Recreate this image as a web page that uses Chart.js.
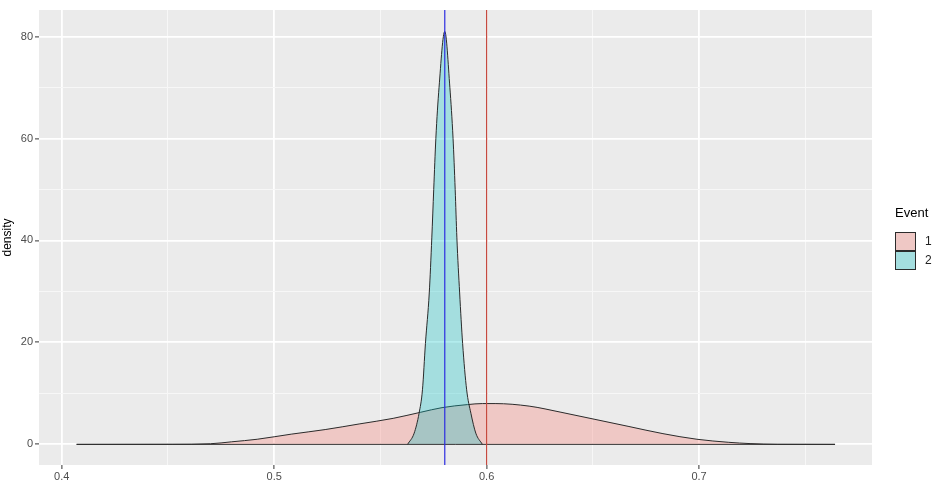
<!DOCTYPE html>
<html>
<head>
<meta charset="utf-8">
<script src="https://cdn.jsdelivr.net/npm/chart.js@4.4.1/dist/chart.umd.min.js"></script>
<style>
  html, body { margin: 0; padding: 0; background: #fff; }
  #wrap { width: 939px; height: 485px; }
</style>
</head>
<body>
<div id="wrap"><canvas id="chart" width="939" height="485"></canvas></div>
<script>
// ---- data ----
const event1X = [0.407, 0.452, 0.470, 0.480, 0.492, 0.508, 0.524, 0.540, 0.556, 0.569, 0.579, 0.591, 0.598, 0.604, 0.620, 0.635, 0.651, 0.667, 0.683, 0.699, 0.714, 0.724, 0.737, 0.764];
const event1Y = [0, 0.02, 0.12, 0.5, 1.0, 2.0, 2.9, 4.0, 5.1, 6.3, 7.2, 7.8, 8.0, 8.0, 7.5, 6.3, 4.9, 3.5, 2.1, 1.0, 0.4, 0.15, 0.02, 0];

const event2X = [0.5628, 0.5659, 0.5682, 0.5698, 0.5712, 0.5730, 0.5742, 0.5751, 0.5761, 0.5776, 0.5803, 0.5827, 0.5842, 0.5852, 0.5860, 0.5873, 0.5887, 0.5906, 0.5926, 0.5949, 0.5980];
const event2Y = [0, 2.2, 6.1, 10.7, 19.8, 29.7, 40.5, 50, 60, 70, 81, 70, 60, 50, 40.5, 29.7, 19.8, 10.7, 6.1, 2.2, 0];

const vlineX = [0.5803, 0.6];           // blue, red
const legendLabels = ['1', '2'];

const xMajor = [0.4, 0.5, 0.6, 0.7];
const xMinor = [0.45, 0.55, 0.65, 0.75];
const yMajor = [0, 20, 40, 60, 80];
const yMinor = [10, 30, 50, 70];

const xMin = 0.3893, xMax = 0.7814;
const yMin = -4.05, yMax = 85.2;

// ---- styles ----
const FONT = '"Liberation Sans", Arial, sans-serif';
const fill1 = 'rgba(248,118,109,0.3)';
const fill2 = 'rgba(0,191,196,0.3)';
const outline = '#2b2b2b';

const pts = (xs, ys) => xs.map((x, i) => ({ x, y: ys[i] }));
const isMajor = (list, v) => list.some(m => Math.abs(m - v) < 1e-9);

const panelBg = {
    id: 'panelBg',
    beforeDraw(chart) {
        const { ctx, chartArea: a } = chart;
        ctx.save();
        ctx.fillStyle = '#ffffff';
        ctx.fillRect(0, 0, chart.width, chart.height);
        ctx.fillStyle = '#ebebeb';
        ctx.fillRect(a.left, a.top, a.right - a.left, a.bottom - a.top);
        ctx.restore();
    }
};

const ggLegend = {
    id: 'ggLegend',
    afterDraw(chart) {
        const ctx = chart.ctx;
        const fills = [fill1, fill2];
        ctx.save();
        ctx.fillStyle = '#000';
        ctx.font = '13px ' + FONT;
        ctx.textBaseline = 'middle';
        ctx.fillText('Event', 895, 213);
        legendLabels.forEach((lab, i) => {
            const y = 232 + i * 19;
            ctx.fillStyle = '#ebebeb';
            ctx.fillRect(895, y, 21, 19);
            ctx.fillStyle = fills[i];
            ctx.fillRect(895, y, 21, 19);
            ctx.strokeStyle = outline;
            ctx.lineWidth = 1;
            ctx.strokeRect(895.5, y + 0.5, 20, 18);
            ctx.fillStyle = '#222';
            ctx.font = '12px ' + FONT;
            ctx.fillText(lab, 925, y + 10);
        });
        ctx.restore();
    }
};

const gridColor = (list) => (c) => isMajor(list, c.tick.value) ? '#ffffff' : '#f7f7f7';
const gridWidth = (list) => (c) => isMajor(list, c.tick.value) ? 1.8 : 1;
const tickColor = (list) => (c) => isMajor(list, c.tick.value) ? '#333333' : 'rgba(0,0,0,0)';

new Chart(document.getElementById('chart'), {
    type: 'line',
    data: {
        datasets: [
            {
                label: 'blue', data: pts([vlineX[0], vlineX[0]], [yMin, yMax]),
                borderColor: '#2d2de0', borderWidth: 1.2, pointRadius: 0, fill: false, order: 0
            },
            {
                label: 'red', data: pts([vlineX[1], vlineX[1]], [yMin, yMax]),
                borderColor: '#c4473d', borderWidth: 1.2, pointRadius: 0, fill: false, order: 0
            },
            {
                label: 'base', data: pts([event1X[0], event1X[event1X.length - 1]], [0, 0]),
                borderColor: outline, borderWidth: 1, pointRadius: 0, fill: false, order: 1
            },
            {
                label: '2', data: pts(event2X, event2Y),
                borderColor: outline, borderWidth: 1, backgroundColor: fill2,
                fill: 'origin', pointRadius: 0, cubicInterpolationMode: 'monotone', order: 2
            },
            {
                label: '1', data: pts(event1X, event1Y),
                borderColor: outline, borderWidth: 1, backgroundColor: fill1,
                fill: 'origin', pointRadius: 0, cubicInterpolationMode: 'monotone', order: 3
            }
        ]
    },
    options: {
        responsive: false,
        animation: false,
        devicePixelRatio: 1,
        layout: { padding: { left: 0, top: 10, right: 67, bottom: 0 } },
        plugins: { legend: { display: false }, tooltip: { enabled: false } },
        scales: {
            x: {
                type: 'linear', min: xMin, max: xMax,
                afterBuildTicks: s => { s.ticks = [...xMajor, ...xMinor].sort((a, b) => a - b).map(v => ({ value: v })); },
                afterFit: s => { s.height = 20; },
                border: { display: false },
                grid: { color: gridColor(xMajor), lineWidth: gridWidth(xMajor), tickColor: tickColor(xMajor), tickLength: 4, tickWidth: 1 },
                ticks: {
                    padding: 1, maxRotation: 0, autoSkip: false, color: '#4d4d4d',
                    font: { family: FONT, size: 11 },
                    callback: v => isMajor(xMajor, v) ? String(v) : ''
                }
            },
            y: {
                type: 'linear', min: yMin, max: yMax,
                afterBuildTicks: s => { s.ticks = [...yMajor, ...yMinor].sort((a, b) => a - b).map(v => ({ value: v })); },
                afterFit: s => { s.width = 39; },
                border: { display: false },
                grid: { color: gridColor(yMajor), lineWidth: gridWidth(yMajor), tickColor: tickColor(yMajor), tickLength: 4, tickWidth: 1 },
                title: { display: true, text: 'density', color: '#000', font: { family: FONT, size: 12 }, padding: { top: 0, bottom: 0 } },
                ticks: {
                    padding: 2, autoSkip: false, color: '#4d4d4d',
                    font: { family: FONT, size: 11 },
                    callback: v => isMajor(yMajor, v) ? String(v) : ''
                }
            }
        }
    },
    plugins: [panelBg, ggLegend]
});
</script>
</body>
</html>
